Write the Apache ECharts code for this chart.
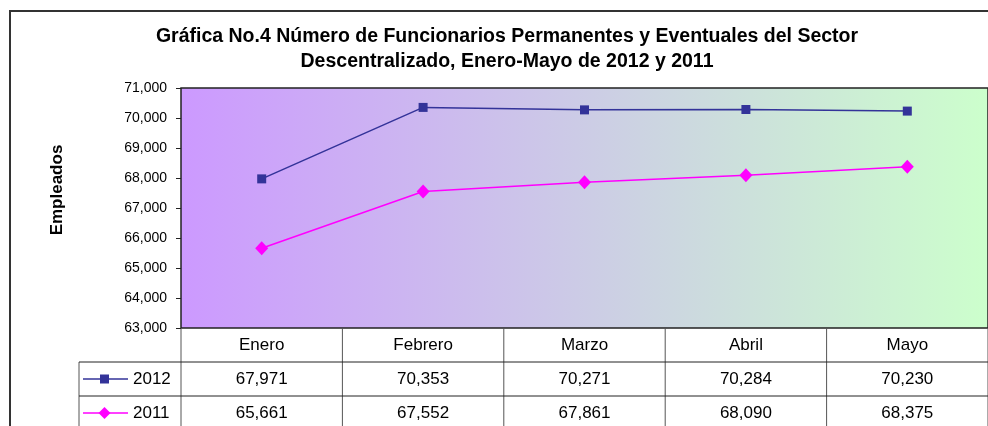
<!DOCTYPE html>
<html>
<head>
<meta charset="utf-8">
<script src="https://cdn.jsdelivr.net/npm/echarts@6/dist/echarts.min.js"></script>
<style>
  html, body { margin: 0; padding: 0; background: #fff; }
  #chart { width: 988px; height: 426px; }
</style>
</head>
<body>
<div id="chart"></div>
<script>
const months = ['Enero', 'Febrero', 'Marzo', 'Abril', 'Mayo']
const years = ['2012', '2011']
const data2012 = [67971, 70353, 70271, 70284, 70230]
const data2011 = [65661, 67552, 67861, 68090, 68375]
const titleLines = [
  'Gráfica No.4 Número de Funcionarios Permanentes y Eventuales del Sector',
  'Descentralizado, Enero-Mayo de 2012 y 2011'
]

const FONT = "'Liberation Sans', Arial, sans-serif"
const colors = ['#333399', '#FF00FF']
const fmt = (v) => String(v).replace(/\B(?=(\d{3})+(?!\d))/g, ',')

const chart = echarts.init(document.getElementById('chart'))

const option = {
  animation: false,
  grid: {
    left: 181,
    top: 88,
    right: -3,
    bottom: 98,
    show: true,
    borderColor: '#222',
    borderWidth: 1.5,
    // fondo degradado morado -> verde
    backgroundColor: new echarts.graphic.LinearGradient(0, 0, 1, 0, [
      { offset: 0, color: '#CC99FF' },
      { offset: 1, color: '#CCFFCC' }
    ])
  },
  xAxis: {
    type: 'category',
    data: months,
    boundaryGap: true,
    axisLine: { show: false },
    axisTick: { show: false },
    axisLabel: { show: true, margin: 9, color: '#000', fontSize: 17, fontFamily: FONT }
  },
  yAxis: {
    type: 'value',
    min: 63000,
    max: 71000,
    interval: 1000,
    splitLine: { show: false },
    axisLine: { show: false },
    axisTick: { show: true, length: 5, lineStyle: { color: '#222', width: 1 } },
    axisLabel: {
      margin: 14,
      color: '#000',
      fontSize: 14,
      fontFamily: FONT,
      formatter: (v) => fmt(v)
    }
  },
  series: [
    {
      name: years[0],
      type: 'line',
      data: data2012,
      symbol: 'rect',
      symbolSize: 9,
      itemStyle: { color: colors[0] },
      lineStyle: { color: colors[0], width: 1.5 }
    },
    {
      name: years[1],
      type: 'line',
      data: data2011,
      symbol: 'diamond',
      symbolSize: [13, 14],
      itemStyle: { color: colors[1] },
      lineStyle: { color: colors[1], width: 1.5 }
    }
  ]
}
chart.setOption(option)

// tabla de datos debajo del gráfico
const xs = months.map((m) => chart.convertToPixel({ xAxisIndex: 0 }, m))
const band = xs[1] - xs[0]
const yTop = chart.convertToPixel({ yAxisIndex: 0 }, 63000)
const rowH = 34
const legendLeft = 79
const rows = [data2012, data2011]
const lineStyle = { stroke: '#555', lineWidth: 1 }
const elements = []

// borde exterior
elements.push({
  type: 'rect', shape: { x: 10, y: 11, width: 1000, height: 500 },
  style: { fill: 'none', stroke: '#333', lineWidth: 2 }, z: 1
})

titleLines.forEach((t, i) => {
  elements.push({
    type: 'text', x: 507, y: 37 + i * 25,
    style: { text: t, fill: '#000', font: 'bold 19.5px ' + FONT, textAlign: 'center', textVerticalAlign: 'middle' }
  })
})

elements.push({
  type: 'text', x: 57, y: 190, rotation: Math.PI / 2,
  style: { text: 'Empleados', fill: '#000', font: 'bold 17px ' + FONT, textAlign: 'center', textVerticalAlign: 'middle' }
})

for (let i = 0; i <= months.length; i++) {
  const x = xs[0] - band / 2 + i * band
  elements.push({ type: 'line', shape: { x1: x, y1: yTop, x2: x, y2: 440 }, style: lineStyle })
}
elements.push({ type: 'line', shape: { x1: legendLeft, y1: yTop + rowH, x2: legendLeft, y2: 440 }, style: lineStyle })
for (let r = 1; r <= rows.length; r++) {
  const y = yTop + r * rowH
  elements.push({ type: 'line', shape: { x1: legendLeft, y1: y, x2: 1000, y2: y }, style: { stroke: '#222', lineWidth: 1 } })
}

rows.forEach((row, r) => {
  const cy = yTop + rowH * (r + 1.5)
  row.forEach((v, i) => {
    elements.push({
      type: 'text', x: xs[i], y: cy,
      style: { text: fmt(v), fill: '#000', font: '17px ' + FONT, textAlign: 'center', textVerticalAlign: 'middle' }
    })
  })
  // clave de la leyenda
  elements.push({ type: 'line', shape: { x1: 83, y1: cy, x2: 128, y2: cy }, style: { stroke: colors[r], lineWidth: 1.5 } })
  if (r === 0) {
    elements.push({ type: 'rect', shape: { x: 100, y: cy - 4.5, width: 9, height: 9 }, style: { fill: colors[r] } })
  } else {
    elements.push({ type: 'polygon', shape: { points: [[104.5, cy - 6], [110.5, cy], [104.5, cy + 6], [98.5, cy]] }, style: { fill: colors[r] } })
  }
  elements.push({
    type: 'text', x: 133, y: cy,
    style: { text: years[r], fill: '#000', font: '17px ' + FONT, textAlign: 'left', textVerticalAlign: 'middle' }
  })
})

chart.setOption({ graphic: { elements: elements } })
</script>
</body>
</html>
